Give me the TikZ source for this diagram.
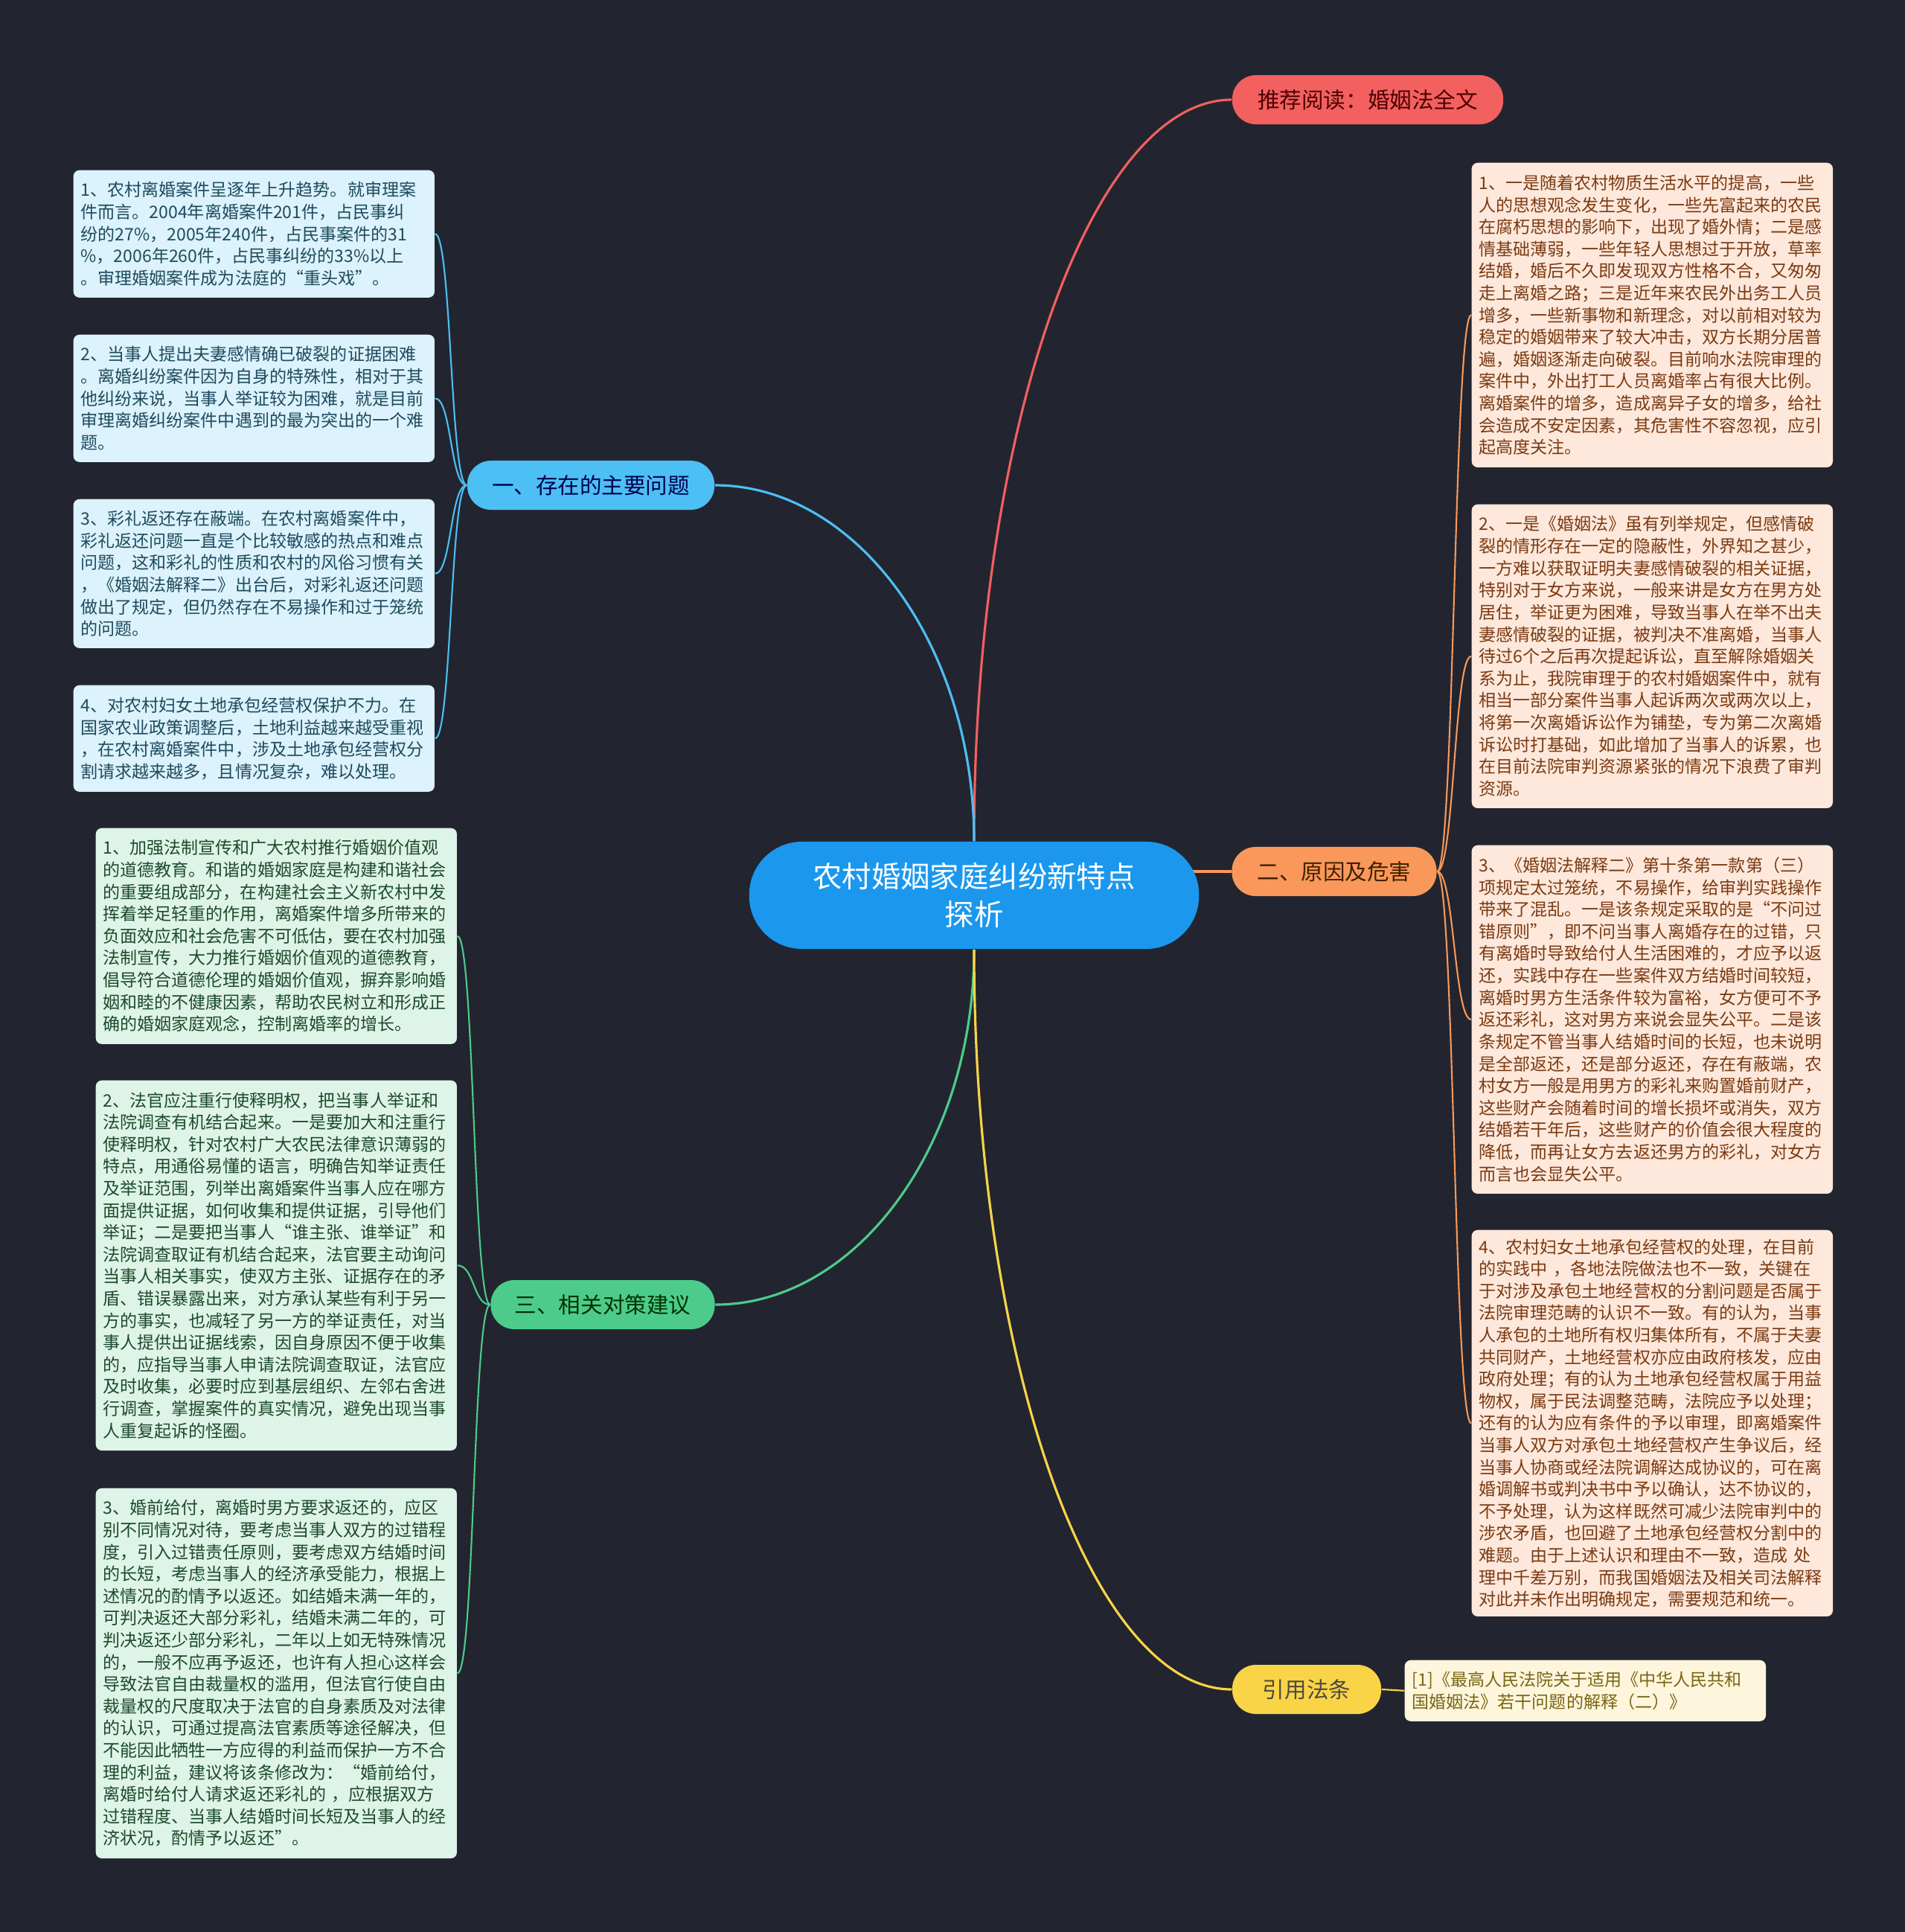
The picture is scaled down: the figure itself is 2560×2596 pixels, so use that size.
\documentclass[tikz,border=0pt]{standalone}
\usepackage{fontspec}
\setmainfont{Noto Sans CJK SC}
\definecolor{bgdark}{HTML}{22252F}
\definecolor{topicblue}{HTML}{1B98EE}
\definecolor{redline}{HTML}{F2605F}
\definecolor{blueline}{HTML}{4CBFF5}
\definecolor{orangeline}{HTML}{F9985A}
\definecolor{greenline}{HTML}{4DCB8B}
\definecolor{yellowline}{HTML}{FAD447}
\definecolor{bluefill}{HTML}{DCF2FC}
\definecolor{bluetext}{HTML}{1E4B5E}
\definecolor{greenfill}{HTML}{DFF4E8}
\definecolor{greentext}{HTML}{1D4A2C}
\definecolor{peachfill}{HTML}{FDE8DB}
\definecolor{peachtext}{HTML}{7B3A12}
\definecolor{creamfill}{HTML}{FDF6DD}
\definecolor{creamtext}{HTML}{7A6512}
\pgfdeclarelayer{back}
\pgfdeclarelayer{links}
\pgfsetlayers{back,links,main}

\begin{document}
\begin{tikzpicture}[x=0.01cm, y=-0.01cm,
  topic/.style={fill=topicblue, rounded corners=0.71cm, minimum width=6.04cm, minimum height=1.44cm, text=white, align=center, font=\fontsize{11.2pt}{14.5pt}\selectfont},
  branch/.style={rounded corners=0.32cm, minimum height=0.66cm, inner xsep=0.3cm, font=\fontsize{8.4pt}{10pt}\selectfont},
  leaf/.style={anchor=north west, rounded corners=0.08cm, text width=4.65cm, inner xsep=0.1cm, align=left, font=\fontsize{6.55pt}{8.42pt}\selectfont},
  bluenote/.style={leaf, fill=bluefill, text=bluetext},
  greennote/.style={leaf, fill=greenfill, text=greentext},
  peachnote/.style={leaf, fill=peachfill, text=peachtext},
  creamnote/.style={leaf, fill=creamfill, text=creamtext},
  link/.style={line width=0.9pt},
  twig/.style={line width=0.6pt}]

  \begin{pgfonlayer}{back}
    \fill[bgdark] (0,0) rectangle (2560,2596);
  \end{pgfonlayer}
  \useasboundingbox (0,0) rectangle (2560,2596);

  \node[topic] (root) at (1309,1203) {农村婚姻家庭纠纷新特点\\探析};

  \node[branch, fill=redline, text=red!30!black, minimum width=3.64cm] (tuijian) at (1838,134) {推荐阅读：婚姻法全文};
  \node[branch, fill=blueline, text=blue!30!black, minimum width=3.32cm] (wenti) at (794,652) {一、存在的主要问题};
  \node[branch, fill=orangeline, text=orange!25!black, minimum width=2.75cm] (yuanyin) at (1793,1171) {二、原因及危害};
  \node[branch, fill=greenline, text=green!20!black, minimum width=3.01cm] (duice) at (810,1753) {三、相关对策建议};
  \node[branch, fill=yellowline, text=yellow!20!black, minimum width=2.00cm] (fatiao) at (1756,2270) {引用法条};

  \node[bluenote, minimum height=1.71cm] (wenti1) at (98,228) {1、农村离婚案件呈逐年上升趋势。就审理案\\件而言。2004年离婚案件201件，占民事纠\\纷的27\%，2005年240件，占民事案件的31\\\%，2006年260件，占民事纠纷的33\%以上\\。审理婚姻案件成为法庭的“重头戏”。};
  \node[bluenote, minimum height=1.71cm] (wenti2) at (98,449) {2、当事人提出夫妻感情确已破裂的证据困难\\。离婚纠纷案件因为自身的特殊性，相对于其\\他纠纷来说，当事人举证较为困难，就是目前\\审理离婚纠纷案件中遇到的最为突出的一个难\\题。};
  \node[bluenote, minimum height=2.00cm] (wenti3) at (98,670) {3、彩礼返还存在蔽端。在农村离婚案件中，\\彩礼返还问题一直是个比较敏感的热点和难点\\问题，这和彩礼的性质和农村的风俗习惯有关\\，《婚姻法解释二》出台后，对彩礼返还问题\\做出了规定，但仍然存在不易操作和过于笼统\\的问题。};
  \node[bluenote, minimum height=1.43cm] (wenti4) at (98,920) {4、对农村妇女土地承包经营权保护不力。在\\国家农业政策调整后，土地利益越来越受重视\\，在农村离婚案件中，涉及土地承包经营权分\\割请求越来越多，且情况复杂，难以处理。};

  \node[greennote, minimum height=2.90cm] (duice1) at (128,1112) {1、加强法制宣传和广大农村推行婚姻价值观\\的道德教育。和谐的婚姻家庭是构建和谐社会\\的重要组成部分，在构建社会主义新农村中发\\挥着举足轻重的作用，离婚案件增多所带来的\\负面效应和社会危害不可低估，要在农村加强\\法制宣传，大力推行婚姻价值观的道德教育，\\倡导符合道德伦理的婚姻价值观，摒弃影响婚\\姻和睦的不健康因素，帮助农民树立和形成正\\确的婚姻家庭观念，控制离婚率的增长。};
  \node[greennote, minimum height=4.97cm] (duice2) at (128,1451) {2、法官应注重行使释明权，把当事人举证和\\法院调查有机结合起来。一是要加大和注重行\\使释明权，针对农村广大农民法律意识薄弱的\\特点，用通俗易懂的语言，明确告知举证责任\\及举证范围，列举出离婚案件当事人应在哪方\\面提供证据，如何收集和提供证据，引导他们\\举证；二是要把当事人“谁主张、谁举证”和\\法院调查取证有机结合起来，法官要主动询问\\当事人相关事实，使双方主张、证据存在的矛\\盾、错误暴露出来，对方承认某些有利于另一\\方的事实，也减轻了另一方的举证责任，对当\\事人提供出证据线索，因自身原因不便于收集\\的，应指导当事人申请法院调查取证，法官应\\及时收集，必要时应到基层组织、左邻右舍进\\行调查，掌握案件的真实情况，避免出现当事\\人重复起诉的怪圈。};
  \node[greennote, minimum height=4.97cm] (duice3) at (128,1999) {3、婚前给付，离婚时男方要求返还的，应区\\别不同情况对待，要考虑当事人双方的过错程\\度，引入过错责任原则，要考虑双方结婚时间\\的长短，考虑当事人的经济承受能力，根据上\\述情况的酌情予以返还。如结婚未满一年的，\\可判决返还大部分彩礼，结婚未满二年的，可\\判决返还少部分彩礼，二年以上如无特殊情况\\的，一般不应再予返还，也许有人担心这样会\\导致法官自由裁量权的滥用，但法官行使自由\\裁量权的尺度取决于法官的自身素质及对法律\\的认识，可通过提高法官素质等途径解决，但\\不能因此牺牲一方应得的利益而保护一方不合\\理的利益，建议将该条修改为：“婚前给付，\\离婚时给付人请求返还彩礼的 ，应根据双方\\过错程度、当事人结婚时间长短及当事人的经\\济状况，酌情予以返还”。};

  \node[peachnote, minimum height=4.09cm] (yuanyin1) at (1977,218) {1、一是随着农村物质生活水平的提高，一些\\人的思想观念发生变化，一些先富起来的农民\\在腐朽思想的影响下，出现了婚外情；二是感\\情基础薄弱，一些年轻人思想过于开放，草率\\结婚，婚后不久即发现双方性格不合，又匆匆\\走上离婚之路；三是近年来农民外出务工人员\\增多，一些新事物和新理念，对以前相对较为\\稳定的婚姻带来了较大冲击，双方长期分居普\\遍，婚姻逐渐走向破裂。目前响水法院审理的\\案件中，外出打工人员离婚率占有很大比例。\\离婚案件的增多，造成离异子女的增多，给社\\会造成不安定因素，其危害性不容忽视，应引\\起高度关注。};
  \node[peachnote, minimum height=4.08cm] (yuanyin2) at (1977,677) {2、一是《婚姻法》虽有列举规定，但感情破\\裂的情形存在一定的隐蔽性，外界知之甚少，\\一方难以获取证明夫妻感情破裂的相关证据，\\特别对于女方来说，一般来讲是女方在男方处\\居住，举证更为困难，导致当事人在举不出夫\\妻感情破裂的证据，被判决不准离婚，当事人\\待过6个之后再次提起诉讼，直至解除婚姻关\\系为止，我院审理于的农村婚姻案件中，就有\\相当一部分案件当事人起诉两次或两次以上，\\将第一次离婚诉讼作为铺垫，专为第二次离婚\\诉讼时打基础，如此增加了当事人的诉累，也\\在目前法院审判资源紧张的情况下浪费了审判\\资源。};
  \node[peachnote, minimum height=4.68cm] (yuanyin3) at (1977,1135) {3、《婚姻法解释二》第十条第一款第（三）\\项规定太过笼统，不易操作，给审判实践操作\\带来了混乱。一是该条规定采取的是“不问过\\错原则”，即不问当事人离婚存在的过错，只\\有离婚时导致给付人生活困难的，才应予以返\\还，实践中存在一些案件双方结婚时间较短，\\离婚时男方生活条件较为富裕，女方便可不予\\返还彩礼，这对男方来说会显失公平。二是该\\条规定不管当事人结婚时间的长短，也未说明\\是全部返还，还是部分返还，存在有蔽端，农\\村女方一般是用男方的彩礼来购置婚前财产，\\这些财产会随着时间的增长损坏或消失，双方\\结婚若干年后，这些财产的价值会很大程度的\\降低，而再让女方去返还男方的彩礼，对女方\\而言也会显失公平。};
  \node[peachnote, minimum height=5.18cm] (yuanyin4) at (1977,1652) {4、农村妇女土地承包经营权的处理，在目前\\的实践中 ，各地法院做法也不一致，关键在\\于对涉及承包土地经营权的分割问题是否属于\\法院审理范畴的认识不一致。有的认为，当事\\人承包的土地所有权归集体所有，不属于夫妻\\共同财产，土地经营权亦应由政府核发，应由\\政府处理；有的认为土地承包经营权属于用益\\物权，属于民法调整范畴，法院应予以处理；\\还有的认为应有条件的予以审理，即离婚案件\\当事人双方对承包土地经营权产生争议后，经\\当事人协商或经法院调解达成协议的，可在离\\婚调解书或判决书中予以确认，达不协议的，\\不予处理，认为这样既然可减少法院审判中的\\涉农矛盾，也回避了土地承包经营权分割中的\\难题。由于上述认识和理由不一致，造成 处\\理中千差万别，而我国婚姻法及相关司法解释\\对此并未作出明确规定，需要规范和统一。};

  \node[creamnote, minimum height=0.82cm] (fatiao1) at (1887,2230) {[1]《最高人民法院关于适用《中华人民共和\\国婚姻法》若干问题的解释（二）》};

  \begin{pgfonlayer}{links}
    \draw[link, redline] (root.north) .. controls +(0,-550) and +(-190,0) .. (tuijian.west);
    \draw[link, blueline] (root.north) .. controls +(0,-263) and +(190,0) .. (wenti.east);
    \draw[link, orangeline] (yuanyin.west) -- ([xshift=-0.1cm]yuanyin.west -| root.east);
    \draw[link, greenline] (root.south) .. controls +(0,263) and +(190,0) .. (duice.east);
    \draw[link, yellowline] (root.south) .. controls +(0,550) and +(-190,0) .. (fatiao.west);
    \foreach \n in {1,...,4}
      \draw[twig, blueline] (wenti.west) .. controls +(-22,0) and +(22,0) .. (wenti\n.east);
    \foreach \n in {1,...,4}
      \draw[twig, orangeline] (yuanyin.east) .. controls +(23,0) and +(-23,0) .. (yuanyin\n.west);
    \foreach \n in {1,...,3}
      \draw[twig, greenline] (duice.west) .. controls +(-23,0) and +(23,0) .. (duice\n.east);
    \draw[twig, yellowline] (fatiao.east) -- (fatiao1.west);
  \end{pgfonlayer}
\end{tikzpicture}
\end{document}
